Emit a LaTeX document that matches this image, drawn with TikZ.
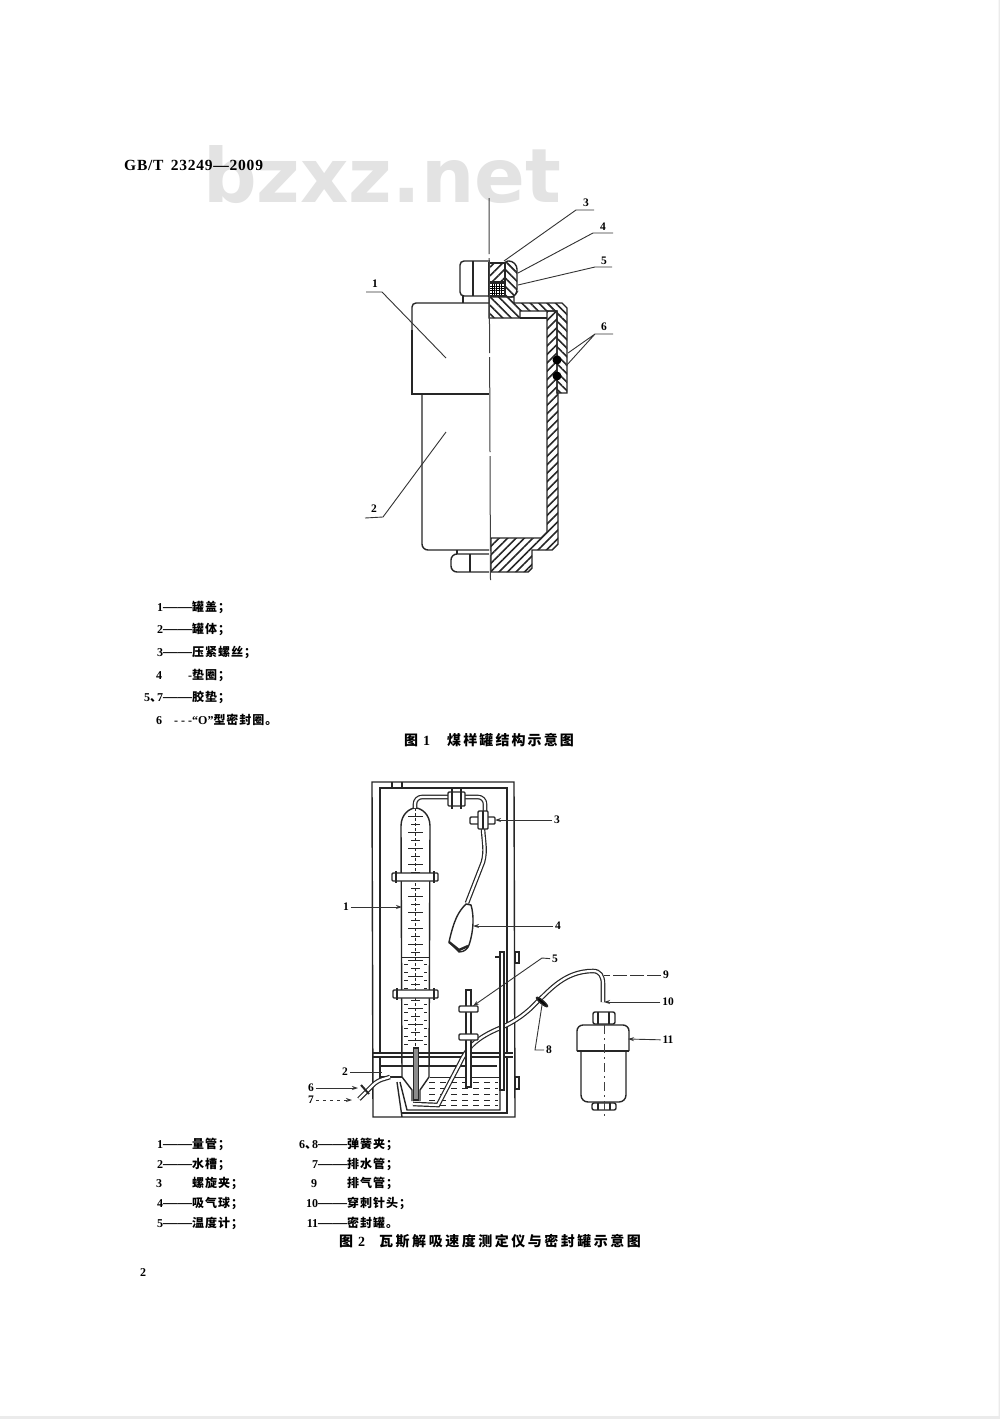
\documentclass[tikz,border=0pt]{standalone}
\usepackage{fontspec}
\setmainfont{Liberation Serif}
\newfontfamily\cjk{Noto Sans CJK SC}[LetterSpace=8]
\newfontfamily\cjkcap{Noto Sans CJK SC}[LetterSpace=15]
\newfontfamily\cjkcapb{Noto Sans CJK SC}[LetterSpace=18]
\newfontfamily\wmark{DejaVu Sans}
\usetikzlibrary{patterns.meta,arrows.meta}
\newcommand{\legnum}[1]{\makebox[36pt][r]{#1}}
\newcommand{\legdash}{{\fontsize{14.5}{14}\selectfont ——}}
\tikzset{
    outline/.style={draw=black!85,line width=1.4pt},
    thinline/.style={draw=black!85,line width=.8pt},
    leader/.style={draw=black!80,line width=.9pt},
    arrowline/.style={leader,-{Stealth[length=6pt,width=4pt]}},
    centre/.style={draw=black!75,line width=1pt},
    hatchA/.style={outline,pattern={Lines[angle=45,distance=6pt,line width=1.6pt]},pattern color=black!85},
    hatchB/.style={outline,pattern={Lines[angle=-45,distance=6pt,line width=1.6pt]},pattern color=black!85},
    mesh/.style={outline,pattern={Hatch[angle=0,distance=2.4pt,line width=1pt]},pattern color=black},
    tube/.style={draw=black!85,double=white,double distance=2.2pt,line width=1.2pt},
    clamp/.style={outline,fill=white,rounded corners=1pt},
    tag/.style={inner sep=0pt,outer sep=2pt,font=\fontsize{11.5}{12}\bfseries},
    legend/.style={anchor=west,inner sep=0pt,font=\fontsize{12}{14}\bfseries},
    caption/.style={anchor=west,inner sep=0pt,font=\fontsize{14}{16}\bfseries},
}
\begin{document}
\begin{tikzpicture}[x=1pt,y=-1pt]
\useasboundingbox (0,0) rectangle (1000,1419);
\fill[white] (0,0) rectangle (1000,1419);
\fill[black!8] (0,1416) rectangle (1000,1419) (998.5,0) rectangle (1000,1419);
% page head
\node[anchor=base west,inner sep=0pt,text=black!11,font=\fontsize{75}{90}\wmark\bfseries] (wmark) at (203,202) {bzxz.net};
\node[anchor=west,inner sep=0pt,font=\fontsize{15.5}{18}\bfseries\addfontfeature{LetterSpace=5}] (head) at (124,165) {GB/T\, 23249—2009};
\node[anchor=west,inner sep=0pt,font=\fontsize{12}{14}\bfseries] (pageno) at (140,1273) {2};

% figure 1, left half
\draw[outline,rounded corners=4pt] (489,303) -- (412,303) -- (412,330);
\draw[outline] (412,330) -- (412,394) -- (489,394);
\draw[outline,rounded corners=6pt] (422,394) -- (422,550) -- (489,550);
\draw[outline,rounded corners=4pt] (489,261) -- (460,261) -- (460,296) -- (489,296);
\draw[outline] (473,261) -- (473,296) (463,296) -- (463,303);
\draw[outline,rounded corners=6pt] (489,554) -- (451,554) -- (451,572) -- (489,572);
\draw[outline] (457,550) -- (457,554) (470,554) -- (470,572);
% figure 1, section
\path[hatchB,rounded corners=3pt] (505,261) -- (512,261) -- (517,266) -- (517,292) -- (514,297) -- (505,297) -- cycle;
\path[hatchB] (489,297) -- (514,297) -- (514,303) -- (562,303) -- (567,308) -- (567,393) -- (557,393) -- (557,311) -- (520,311) -- (520,318) -- (489,318) -- cycle;
\path[hatchA] (547,311) -- (557,311) -- (557,393) -- (558,393) -- (558,544) -- (552,550) -- (532,550) -- (532,568) -- (528,572) -- (491,572) -- (491,538) -- (541,538) -- (547,532) -- cycle;
\path[hatchA] (489,263) rectangle (505,282);
\path[mesh] (489,283) rectangle (505,296);
\draw[outline] (520,318) -- (547,318);
\fill[black] (557,360) circle[radius=4.5pt] (557,376) circle[radius=4.5pt];
\draw[centre,dash pattern=on 95pt off 4pt,dash phase=39pt] (489,198) -- (490.5,580);
% figure 1, callouts
\node[tag] (f1a) at (375,284) {1};
\node[tag] (f1b) at (374,509) {2};
\node[tag] (f1c) at (586,203) {3};
\node[tag] (f1d) at (603,227) {4};
\node[tag] (f1e) at (604,261) {5};
\node[tag] (f1f) at (604,327) {6};
\coordinate (f1a0) at (366,292); \coordinate (f1a1) at (382,292); \coordinate (f1a2) at (446,358);
\coordinate (f1b0) at (365,518); \coordinate (f1b1) at (383,517); \coordinate (f1b2) at (446,432);
\coordinate (f1c0) at (594,210); \coordinate (f1c1) at (576,210); \coordinate (f1c2) at (504,261);
\coordinate (f1d0) at (613,233); \coordinate (f1d1) at (593,233); \coordinate (f1d2) at (518,273);
\coordinate (f1e0) at (612,267); \coordinate (f1e1) at (595,267); \coordinate (f1e2) at (518,285);
\coordinate (f1f0) at (613,334); \coordinate (f1f1) at (595,334); \coordinate (f1f2) at (568,353); \coordinate (f1f3) at (566,366);
\draw[leader] (f1a0) -- (f1a1) -- (f1a2);
\draw[leader] (f1b0) -- (f1b1) -- (f1b2);
\draw[leader] (f1c0) -- (f1c1) -- (f1c2);
\draw[leader] (f1d0) -- (f1d1) -- (f1d2);
\draw[leader] (f1e0) -- (f1e1) -- (f1e2);
\draw[leader] (f1f0) -- (f1f1) -- (f1f2) (f1f1) -- (f1f3);
% figure 1, key
\node[legend] (k1a) at (156,607) {\legnum{1\legdash}{\cjk 罐盖；}};
\node[legend] (k1b) at (156,629) {\legnum{2\legdash}{\cjk 罐体；}};
\node[legend] (k1c) at (156,652) {\legnum{3\legdash}{\cjk 压紧螺丝；}};
\node[legend] (k1d) at (156,675) {\legnum{4\hfill-}{\cjk 垫圈；}};
\node[legend] (k1e) at (156,697) {\legnum{5{\cjk 、}\kern-5pt 7\legdash}{\cjk 胶垫；}};
\node[legend] (k1f) at (156,720) {\legnum{6\hfill- - -}“O”{\cjk 型密封圈。}};
\node[caption] (cap1) at (404,740) {{\cjkcap 图}\hspace{5pt}1\hspace{17pt}{\cjkcap 煤样罐结构示意图}};

% figure 2, cabinet
\draw[outline] (402,1117) -- (373,1117) -- (372,782) -- (514,782) -- (515,1117) -- (402,1117) -- (397,1082);
\draw[outline] (380,1053) -- (380,788) -- (507,788) -- (507,1053);
\draw[outline] (373,1053) -- (513,1053) (373,1057) -- (513,1057) (380,1066) -- (497,1066);
\draw[outline] (392,782) -- (392,788) (402,782) -- (402,788);
\draw[outline] (507,1057) -- (507,1113) -- (402,1113);
\draw[outline] (380,1057) -- (380,1077) -- (402,1077);
% water bath
\draw[outline] (400,1082) -- (407,1110) -- (500,1110) -- (500,1066);
\draw[thinline] (430,1077) -- (499,1077);
\foreach \y in {1082,1088,1094,1100,1105}
    \draw[thinline,dash pattern=on 6pt off 5pt] (429,\y) -- (498,\y);
% burette
\draw[outline] (402,1077) -- (401,826) .. controls (401,814) and (410,808) .. (415.5,808) .. controls (421,808) and (430,814) .. (430,826) -- (429,1077) -- (420,1090) -- (420,1101) (402,1077) -- (412,1090) -- (412,1101);
\draw[thinline] (401,957) -- (430,957);
\foreach \y in {816,832,...,1040}
    \draw[thinline] (408,\y) -- (423,\y);
\foreach \y in {824,840,...,1040}
    \draw[thinline] (411,\y) -- (420,\y);
\foreach \y in {964,972,...,1044}
    \draw[thinline,dash pattern=on 4pt off 16pt] (404,\y) -- (427,\y);
\draw[thinline,dash pattern=on 3pt off 2pt] (415.5,808) -- (415.5,1048);
\draw[outline,fill=black!45] (413.5,1048) rectangle (418.5,1100);
\path[clamp] (392,873) rectangle (438,881);
\path[clamp] (393,990) rectangle (438,998);
\draw[outline] (396,871) -- (396,883) (434,871) -- (434,883) (397,988) -- (397,1000) (434,988) -- (434,1000);
% rubber hoses
\draw[tube,rounded corners=7pt] (415,808) -- (415,797) -- (448,797) (465,797) -- (485,797) -- (485,812);
\path[clamp] (448,792) rectangle (465,806);
\draw[outline] (452,789) -- (452,809) (461,789) -- (461,809);
\draw[tube] (483,829) .. controls (484,845) and (486,850) .. (483,862) -- (467,903);
\path[clamp] (470,817) rectangle (495,824);
\path[clamp] (478,811) rectangle (488,829);
\draw[outline] (483,811) -- (483,829);
\draw[outline,fill=white] (466,904) .. controls (458,912) and (454,920) .. (449,942) -- (459,952) .. controls (465,952) and (468,948) .. (469,945) .. controls (474,930) and (474,915) .. (471,905) -- cycle;
\draw[outline,line width=2.4pt] (449,942) -- (459,950) -- (468,946);
% outlet tube
\draw[tube] (413,1104) -- (438,1105) -- (460,1063) .. controls (467,1048) and (476,1038) .. (500,1028) .. controls (515,1022) and (528,1012) .. (537,1002) .. controls (550,990) and (565,971) .. (593,971) .. controls (600,971) and (603,976) .. (603,984) -- (603,1002);
\draw[outline,fill=black,rotate around={-40:(542,1002)}] (542,1002) ellipse[x radius=7pt,y radius=1.6pt];
% thermometers
\draw[outline,fill=white] (466,990) rectangle (471,1087);
\path[clamp] (459,1006) rectangle (478,1012);
\path[clamp] (459,1034) rectangle (478,1040);
\draw[outline,fill=white] (500,952) rectangle (504,1090);
\draw[outline] (495,957) -- (500,957) (515,952) rectangle (519,963) (515,1077) rectangle (519,1089);
% drain pipe
\draw[tube,rounded corners=5pt] (390,1077) -- (377,1081) -- (359,1099);
\draw[outline,line width=2pt] (361,1085) -- (369,1094);
% sealed can
\draw[outline,rounded corners=6pt] (577,1051) -- (577,1025) -- (629,1025) -- (629,1051);
\draw[outline] (577,1051) -- (629,1051);
\draw[outline,rounded corners=7pt] (581,1051) -- (581,1102) -- (626,1102) -- (626,1051);
\draw[outline,rounded corners=2pt] (593,1024) -- (593,1012) -- (615,1012) -- (615,1024) -- cycle;
\draw[outline] (598,1012) -- (598,1024) (609,1012) -- (609,1024);
\draw[outline,rounded corners=2pt] (592,1103) -- (616,1103) -- (616,1110) -- (592,1110) -- cycle;
\draw[outline] (598,1103) -- (598,1110) (610,1103) -- (610,1110);
\draw[centre,dash pattern=on 9pt off 4pt on 2pt off 4pt] (604,1025) -- (604,1118);
% figure 2, callouts
\node[tag] (f2a) at (346,907) {1};
\node[tag] (f2b) at (345,1072) {2};
\node[tag] (f2c) at (557,820) {3};
\node[tag] (f2d) at (558,926) {4};
\node[tag] (f2e) at (555,959) {5};
\node[tag] (f2f) at (311,1088) {6};
\node[tag] (f2g) at (311,1100) {7};
\node[tag] (f2h) at (549,1050) {8};
\node[tag] (f2i) at (666,975) {9};
\node[tag] (f2j) at (668,1002) {10};
\node[tag] (f2k) at (668,1040) {11};
\coordinate (f2a1) at (402,907);
\coordinate (f2b1) at (382,1072);
\coordinate (f2c1) at (495,820);
\coordinate (f2d1) at (473,926);
\coordinate (f2e0) at (542,958); \coordinate (f2e1) at (473,1006);
\coordinate (f2f1) at (358,1088);
\coordinate (f2g1) at (352,1100);
\coordinate (f2h0) at (535,1050); \coordinate (f2h1) at (542,1005);
\coordinate (f2i1) at (604,975);
\coordinate (f2j1) at (604,1002);
\coordinate (f2k1) at (628,1039);
\draw[arrowline] (f2a) -- (f2a1);
\draw[leader] (f2b) -- (f2b1);
\draw[arrowline] (f2c) -- (f2c1);
\draw[arrowline] (f2d) -- (f2d1);
\draw[arrowline] (f2e) -- (f2e0) -- (f2e1);
\draw[arrowline] (f2f) -- (f2f1);
\draw[arrowline,dash pattern=on 3pt off 4pt] (f2g) -- (f2g1);
\draw[leader] (f2h) -- (f2h0) -- (f2h1);
\draw[leader,dash pattern=on 14pt off 3pt] (f2i) -- (f2i1);
\draw[arrowline] (f2j) -- (f2j1);
\draw[arrowline] (f2k) -- (f2k1);
% figure 2, key
\node[legend] (k2a) at (156,1144) {\legnum{1\legdash}{\cjk 量管；}};
\node[legend] (k2b) at (156,1164) {\legnum{2\legdash}{\cjk 水槽；}};
\node[legend] (k2c) at (156,1183) {\legnum{3\hfill}{\cjk 螺旋夹；}};
\node[legend] (k2d) at (156,1203) {\legnum{4\legdash}{\cjk 吸气球；}};
\node[legend] (k2e) at (156,1223) {\legnum{5\legdash}{\cjk 温度计；}};
\node[legend] (k2f) at (311,1144) {\legnum{6{\cjk 、}\kern-5pt 8\legdash}{\cjk 弹簧夹；}};
\node[legend] (k2g) at (311,1164) {\legnum{7\legdash}{\cjk 排水管；}};
\node[legend] (k2h) at (311,1183) {\legnum{9\hfill}{\cjk 排气管；}};
\node[legend] (k2i) at (311,1203) {\legnum{10\legdash}{\cjk 穿刺针头；}};
\node[legend] (k2j) at (311,1223) {\legnum{11\legdash}{\cjk 密封罐。}};
\node[caption] (cap2) at (339,1241) {{\cjkcapb 图}\hspace{5pt}2\hspace{14pt}{\cjkcapb 瓦斯解吸速度测定仪与密封罐示意图}};
\end{tikzpicture}
\end{document}
